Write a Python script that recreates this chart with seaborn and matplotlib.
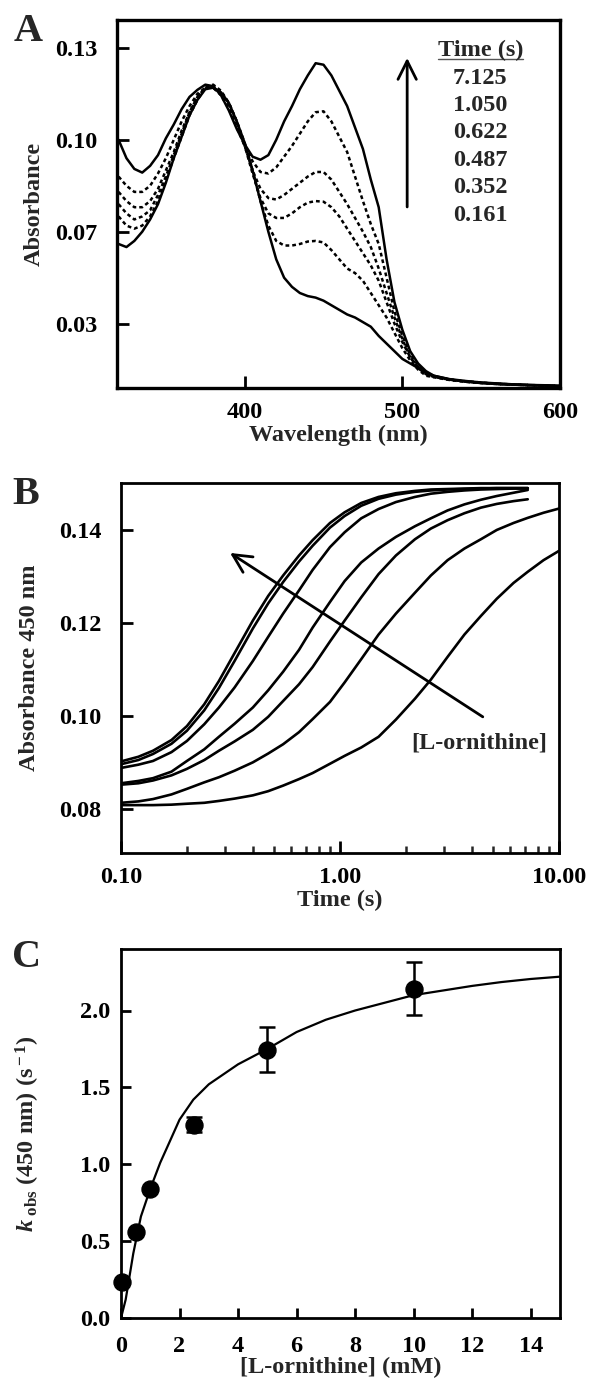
import numpy as np
import matplotlib
matplotlib.use('Agg')
import matplotlib.pyplot as plt
import seaborn as sns

nan = np.nan

# ---------------- Panel A: spectra at several times ----------------
wavelength = [320, 325, 330, 335, 340, 345, 350, 355, 360, 365, 370, 375, 380, 385, 390,
              395, 400, 405, 410, 415, 420, 425, 430, 435, 440, 445, 450, 455, 460, 465,
              470, 475, 480, 485, 490, 495, 500, 505, 510, 515, 520, 530, 540, 550, 560,
              570, 580, 590, 600]

abs_7125 = [0.100, 0.094, 0.0905, 0.0893, 0.0915, 0.095, 0.1005, 0.105, 0.110, 0.114, 0.1163,
            0.118, 0.1175, 0.1145, 0.1095, 0.1035, 0.0985, 0.0945, 0.0935, 0.095, 0.100,
            0.106, 0.111, 0.1165, 0.121, 0.125, 0.1245, 0.121, 0.116, 0.111, 0.104, 0.097,
            0.087, 0.078, 0.061, 0.047, 0.038, 0.031, 0.027, 0.0245, 0.0230, 0.0219, 0.0213,
            0.0208, 0.0205, 0.0202, 0.0200, 0.0199, 0.0197]
abs_1050 = [0.088, 0.085, 0.083, 0.083, 0.085, 0.089, 0.094, 0.100, 0.106, 0.111, 0.115,
            0.117, 0.117, 0.1145, 0.110, 0.104, 0.098, 0.093, 0.0895, 0.089, 0.091, 0.0945,
            0.098, 0.102, 0.106, 0.109, 0.1093, 0.106, 0.101, 0.096, 0.088, 0.080, 0.0725,
            0.066, 0.055, 0.044, 0.036, 0.030, 0.0265, 0.024, 0.0228, 0.0218, 0.0212,
            0.0208, 0.0204, 0.0202, 0.0200, 0.0198, 0.0197]
abs_0622 = [0.083, 0.080, 0.078, 0.078, 0.080, 0.084, 0.090, 0.096, 0.103, 0.109, 0.114,
            0.117, 0.117, 0.115, 0.111, 0.105, 0.098, 0.090, 0.084, 0.081, 0.0805, 0.082,
            0.084, 0.086, 0.088, 0.0895, 0.0895, 0.087, 0.083, 0.079, 0.0745, 0.070, 0.065,
            0.058, 0.050, 0.042, 0.035, 0.029, 0.026, 0.0235, 0.0227, 0.0217, 0.0211,
            0.0207, 0.0204, 0.0201, 0.0200, 0.0198, 0.0196]
abs_0487 = [0.079, 0.076, 0.074, 0.075, 0.077, 0.082, 0.088, 0.095, 0.102, 0.109, 0.114,
            0.117, 0.1175, 0.1155, 0.112, 0.106, 0.098, 0.089, 0.081, 0.076, 0.0745, 0.0745,
            0.076, 0.078, 0.0795, 0.080, 0.0798, 0.078, 0.075, 0.071, 0.067, 0.063, 0.059,
            0.054, 0.047, 0.040, 0.034, 0.029, 0.0255, 0.0235, 0.0226, 0.0217, 0.0211,
            0.0207, 0.0203, 0.0201, 0.0199, 0.0198, 0.0196]
abs_0352 = [0.075, 0.072, 0.071, 0.072, 0.075, 0.080, 0.087, 0.094, 0.101, 0.108, 0.113,
            0.117, 0.118, 0.116, 0.112, 0.106, 0.099, 0.090, 0.080, 0.072, 0.067, 0.0655,
            0.0655, 0.066, 0.0668, 0.067, 0.0665, 0.064, 0.061, 0.058, 0.0565, 0.054, 0.050,
            0.046, 0.042, 0.037, 0.032, 0.028, 0.025, 0.023, 0.0225, 0.0216, 0.0210,
            0.0206, 0.0203, 0.0201, 0.0199, 0.0198, 0.0196]
abs_0161 = [0.066, 0.065, 0.067, 0.070, 0.074, 0.079, 0.086, 0.094, 0.101, 0.108, 0.113,
            0.1165, 0.117, 0.1155, 0.112, 0.106, 0.099, 0.090, 0.080, 0.070, 0.061, 0.055,
            0.052, 0.050, 0.049, 0.0485, 0.0475, 0.046, 0.0445, 0.043, 0.042, 0.0405, 0.039,
            0.036, 0.0335, 0.031, 0.0285, 0.027, 0.0255, 0.024, 0.0230, 0.0218, 0.0211,
            0.0206, 0.0203, 0.0201, 0.0199, 0.0198, 0.0196]

time_labels = ['7.125', '1.050', '0.622', '0.487', '0.352', '0.161']
spectra = [abs_7125, abs_1050, abs_0622, abs_0487, abs_0352, abs_0161]
styles = ['-', (0, (1.5, 1.2)), (0, (1.5, 1.2)), (0, (1.5, 1.2)), (0, (1.5, 1.2)), '-']
a_yticks = [0.04, 0.07, 0.10, 0.13]
a_yticklabels = ['0.03', '0.07', '0.10', '0.13']

# ---------------- Panel B: time courses at 450 nm ----------------
time_s = [0.1, 0.12, 0.14, 0.17, 0.2, 0.24, 0.28, 0.33, 0.4, 0.47, 0.55, 0.65, 0.75, 0.9,
          1.05, 1.25, 1.5, 1.8, 2.2, 2.6, 3.1, 3.7, 4.4, 5.2, 6.2, 7.2, 8.5, 10.0]
trace_1 = [0.0902, 0.0912, 0.0925, 0.0948, 0.0978, 0.1025, 0.1075, 0.1135, 0.1205, 0.1258,
           0.1302, 0.1345, 0.1378, 0.1415, 0.1438, 0.1458, 0.1471, 0.1479, 0.1484, 0.1487,
           0.1488, 0.1489, 0.149, 0.149, 0.149, 0.149, nan, nan]
trace_2 = [0.0896, 0.0905, 0.0918, 0.0940, 0.0968, 0.1012, 0.1060, 0.1118, 0.1188, 0.1242,
           0.1288, 0.1332, 0.1366, 0.1405, 0.1430, 0.1452, 0.1467, 0.1476, 0.1482, 0.1485,
           0.1487, 0.1488, 0.1489, 0.149, 0.149, 0.149, nan, nan]
trace_3 = [0.0888, 0.0895, 0.0903, 0.0922, 0.0946, 0.0982, 0.1018, 0.1061, 0.1118, 0.1170,
           0.1220, 0.1270, 0.1314, 0.1363, 0.1395, 0.1425, 0.1445, 0.1460, 0.1471, 0.1478,
           0.1482, 0.1485, 0.1487, 0.1488, 0.1489, 0.1489, nan, nan]
trace_4 = [0.0855, 0.0860, 0.0866, 0.0880, 0.0903, 0.0928, 0.0955, 0.0983, 0.1018, 0.1055,
           0.1095, 0.1142, 0.1190, 0.1245, 0.1290, 0.1330, 0.1360, 0.1385, 0.1408, 0.1425,
           0.1442, 0.1455, 0.1465, 0.1473, 0.1480, 0.1486, nan, nan]
trace_5 = [0.0852, 0.0855, 0.0861, 0.0872, 0.0886, 0.0905, 0.0925, 0.0945, 0.0970, 0.0998,
           0.1032, 0.1068, 0.1105, 0.1160, 0.1205, 0.1255, 0.1305, 0.1345, 0.1380, 0.1403,
           0.1421, 0.1436, 0.1448, 0.1456, 0.1462, 0.1466, nan, nan]
trace_6 = [0.0813, 0.0816, 0.0821, 0.0831, 0.0843, 0.0857, 0.0868, 0.0882, 0.0900, 0.0919,
           0.0939, 0.0965, 0.0993, 0.1030, 0.1072, 0.1122, 0.1175, 0.1220, 0.1265, 0.1302,
           0.1335, 0.1360, 0.1380, 0.1400, 0.1415, 0.1426, 0.1437, 0.1446]
trace_7 = [0.0808, 0.0808, 0.0808, 0.0809, 0.0811, 0.0813, 0.0817, 0.0822, 0.0829, 0.0838,
           0.0850, 0.0864, 0.0877, 0.0897, 0.0914, 0.0932, 0.0955, 0.0992, 0.1037, 0.1078,
           0.1127, 0.1175, 0.1215, 0.1252, 0.1286, 0.1310, 0.1335, 0.1355]
traces = [trace_1, trace_2, trace_3, trace_4, trace_5, trace_6, trace_7]

# ---------------- Panel C: kobs vs [L-ornithine] ----------------
ornithine_mM = [0.05, 0.5, 1.0, 2.5, 5.0, 10.0]
kobs = [0.235, 0.561, 0.841, 1.257, 1.746, 2.143]
kobs_err = [0.0, 0.0, 0.0, 0.05, 0.148, 0.173]
fit_x = [0, 0.16, 0.42, 0.68, 1.0, 1.34, 1.6, 2.0, 2.47, 3.0, 4.0, 5.0, 6.0, 7.0, 8.0, 9.0,
         10.0, 11.0, 12.0, 13.0, 14.0, 15.0]
fit_y = [0, 0.12, 0.42, 0.66, 0.84, 1.01, 1.12, 1.29, 1.42, 1.52, 1.65, 1.75, 1.86, 1.94,
         2.00, 2.05, 2.10, 2.13, 2.16, 2.185, 2.205, 2.22]

# ---------------- style ----------------
sns.set_style('ticks')
plt.rcParams['font.family'] = ['Liberation Serif', 'DejaVu Serif']
plt.rcParams['font.weight'] = 'bold'
plt.rcParams['axes.labelweight'] = 'bold'
plt.rcParams['mathtext.fontset'] = 'custom'
plt.rcParams['mathtext.rm'] = 'Liberation Serif:bold'
plt.rcParams['mathtext.it'] = 'Liberation Serif:bold:italic'
plt.rcParams['mathtext.bf'] = 'Liberation Serif:bold'
FS = 17.5

W, H = 592, 1378
fig = plt.figure(figsize=(W / 100, H / 100), dpi=100)


def px_axes(left, top, right, bottom):
    return fig.add_axes([left / W, 1 - bottom / H, (right - left) / W, (bottom - top) / H])


def style_axes(ax, spine_w, pad_x, pad_y):
    for s in ax.spines.values():
        s.set_visible(True)
        s.set_color('black')
        s.set_linewidth(spine_w)
    ax.tick_params(direction='in', length=8.5, width=2, labelsize=FS,
                   top=False, right=False, colors='black')
    ax.tick_params(axis='x', pad=pad_x)
    ax.tick_params(axis='y', pad=pad_y)
    ax.xaxis.label.set_va('center')
    ax.yaxis.label.set_va('center')


# Panel A
axA = px_axes(117, 20, 560, 388)
for spec, ls in zip(spectra, styles):
    sns.lineplot(x=wavelength, y=spec, ax=axA, color='black', lw=1.8, linestyle=ls,
                 errorbar=None)
axA.set_xlim(319, 600)
axA.set_ylim(0.019, 0.1391)
axA.set_xticks([400, 500, 600])
axA.set_yticks(a_yticks)
axA.set_yticklabels(a_yticklabels)
axA.set_xlabel('Wavelength (nm)', fontsize=FS)
axA.set_ylabel('Absorbance', fontsize=FS)
style_axes(axA, 2.4, 10, 14)
axA.xaxis.set_label_coords(0.5, -0.128)
axA.yaxis.set_label_coords(-0.187, 0.5)
axA.annotate('', xy=(0.655, 0.897), xytext=(0.655, 0.492), xycoords='axes fraction',
             arrowprops=dict(arrowstyle='->,head_length=0.6,head_width=0.3', lw=2,
                             color='black', mutation_scale=22, shrinkA=0, shrinkB=0))
axA.text(0.82, 0.918, 'Time (s)', transform=axA.transAxes, ha='center', va='center',
         fontsize=FS)
axA.plot([0.724, 0.916], [0.895, 0.895], transform=axA.transAxes, color='#555555', lw=1)
for i, lab in enumerate(time_labels):
    axA.text(0.82, 0.842 - i * 0.0745, lab, transform=axA.transAxes, ha='center',
             va='center', fontsize=FS)

# Panel B
axB = px_axes(121, 483, 559, 853)
axB.set_xscale('log')
for tr in traces:
    sns.lineplot(x=time_s, y=tr, ax=axB, color='black', lw=1.9, errorbar=None)
axB.set_xlim(0.1, 10)
axB.set_ylim(0.0705, 0.1501)
axB.set_xticks([0.1, 1, 10])
axB.set_xticklabels(['0.10', '1.00', '10.00'])
axB.xaxis.set_minor_locator(matplotlib.ticker.LogLocator(base=10, subs=np.arange(2, 10)))
axB.xaxis.set_minor_formatter(matplotlib.ticker.NullFormatter())
axB.set_yticks([0.08, 0.10, 0.12, 0.14])
axB.set_yticklabels(['0.08', '0.10', '0.12', '0.14'])
axB.set_xlabel('Time (s)', fontsize=FS)
axB.set_ylabel('Absorbance 450 nm', fontsize=FS)
style_axes(axB, 2.0, 10, 14)
axB.tick_params(axis='x', which='minor', direction='in', length=5, width=1.8, top=False)
axB.xaxis.set_label_coords(0.5, -0.127)
axB.yaxis.set_label_coords(-0.21, 0.5)
axB.annotate('', xy=(0.249, 0.811), xytext=(0.826, 0.368), xycoords='axes fraction',
             arrowprops=dict(arrowstyle='->,head_length=0.6,head_width=0.3', lw=2,
                             color='black', mutation_scale=22, shrinkA=0, shrinkB=0))
axB.text(0.817, 0.297, '[L-ornithine]', transform=axB.transAxes, ha='center',
         va='center', fontsize=FS)

# Panel C
axC = px_axes(121, 949, 560, 1318)
sns.lineplot(x=fit_x, y=fit_y, ax=axC, color='black', lw=1.6, errorbar=None)
axC.errorbar(ornithine_mM, kobs, yerr=kobs_err, fmt='none', ecolor='black', elinewidth=1.8,
             capsize=5.5, capthick=1.8, zorder=3)
sns.scatterplot(x=ornithine_mM, y=kobs, ax=axC, color='black', s=150, edgecolor='black',
                zorder=4, clip_on=False)
axC.set_xlim(0, 15)
axC.set_ylim(0, 2.4)
axC.set_xticks(range(0, 16, 2))
axC.set_yticks([0.0, 0.5, 1.0, 1.5, 2.0])
axC.set_yticklabels(['0.0', '0.5', '1.0', '1.5', '2.0'])
axC.set_xlabel('[L-ornithine] (mM)', fontsize=FS)
axC.set_ylabel(r'$k_{\ \rm obs}$ (450 nm) (s$^{\rm -1}$)', fontsize=FS)
style_axes(axC, 2.0, 13, 8)
axC.tick_params(length=7.5)
axC.xaxis.set_label_coords(0.5, -0.135)
axC.yaxis.set_label_coords(-0.212, 0.5)

# panel letters
for letter, (fx, fy) in zip('ABC', [(0.047, 0.9768), (0.044, 0.6415), (0.0456, 0.305)]):
    fig.text(fx, fy, letter, fontsize=29, fontweight='bold', ha='center', va='center')

fig.savefig('out.png', dpi=100)
